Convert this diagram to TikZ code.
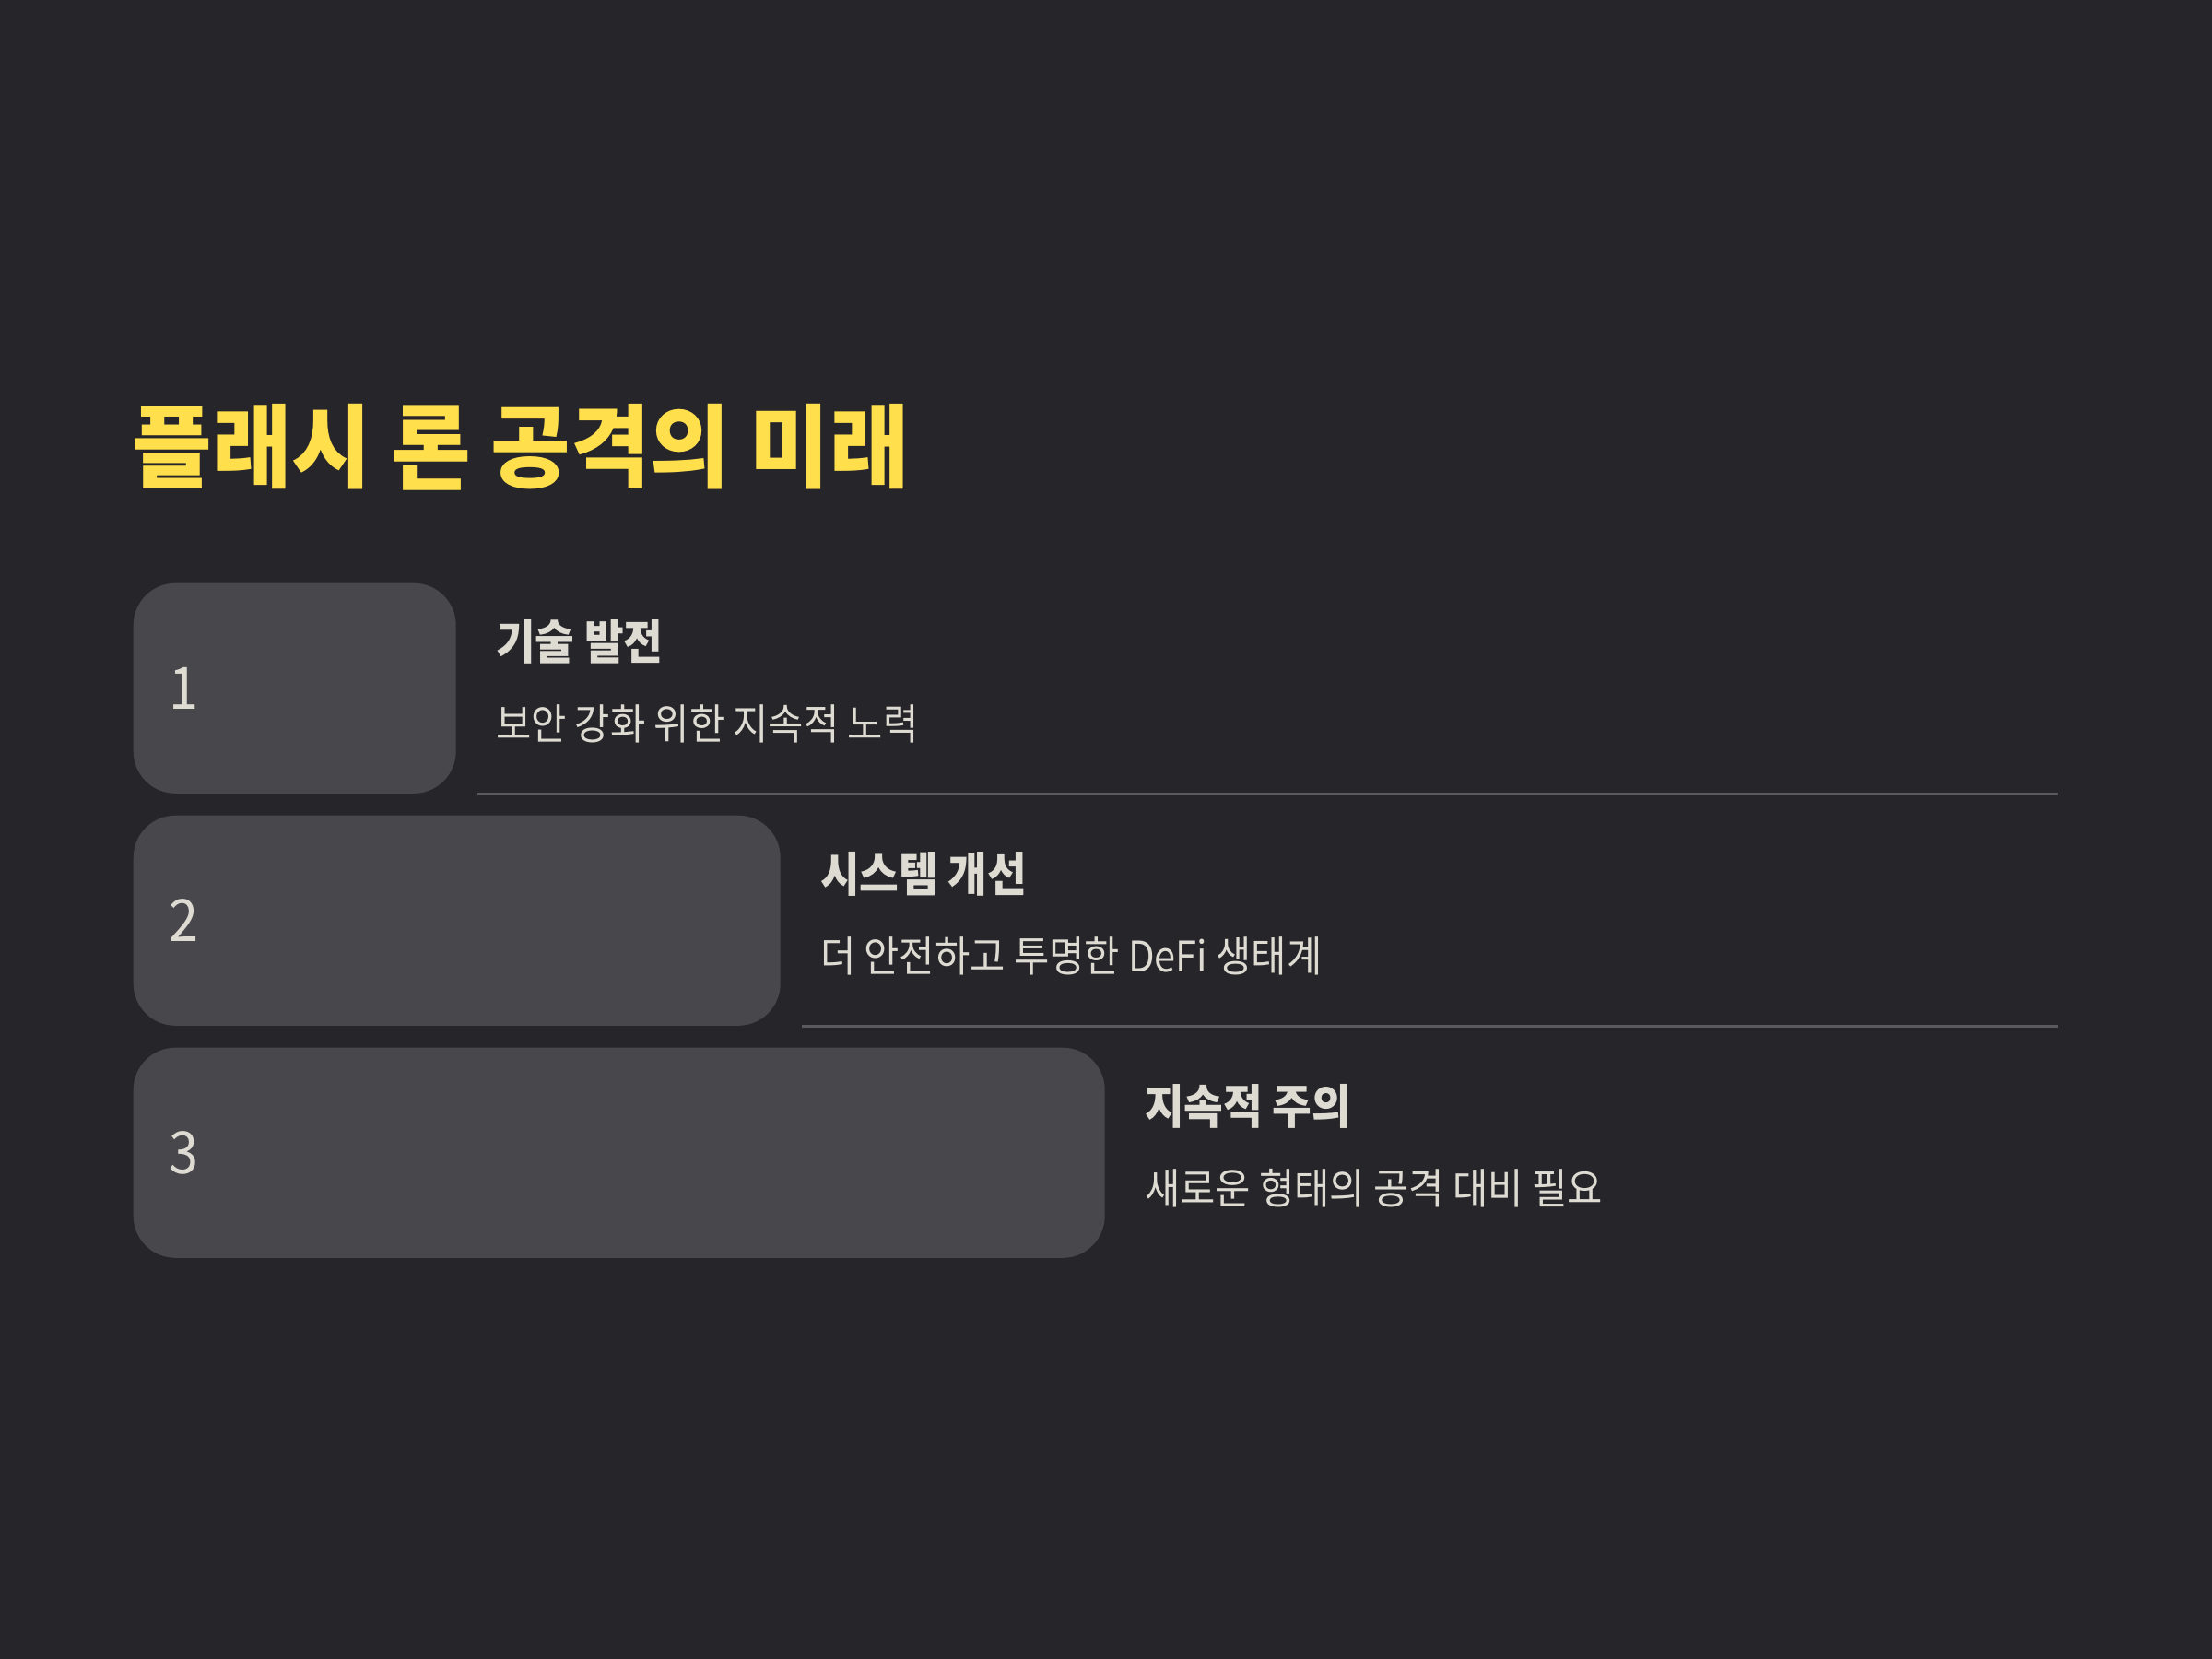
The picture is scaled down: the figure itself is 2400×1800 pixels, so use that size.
\documentclass[tikz,border=0pt]{standalone}
\usepackage{fontspec}
\setmainfont{Noto Sans CJK KR}[FakeStretch=0.91]
\newfontfamily\titlefont{Noto Sans CJK KR}[FakeStretch=0.955]
\usetikzlibrary{calc,positioning}

\definecolor{bgcol}{HTML}{26252A}
\definecolor{boxcol}{HTML}{48474C}
\definecolor{titlecol}{HTML}{FFE04C}
\definecolor{textcol}{HTML}{DEDBD2}
\definecolor{rulecol}{HTML}{5A595E}

\begin{document}
\begin{tikzpicture}[x=0.01cm,y=-0.01cm]

	\tikzset{
		stagebox/.style={fill=boxcol,rounded corners=13pt,anchor=north west,
				minimum height=2.28cm,inner sep=0pt},
		numtext/.style={text=textcol,font=\fontsize{18}{20}\selectfont,anchor=west,inner sep=0pt},
		headtext/.style={text=textcol,font=\fontsize{14.5}{17}\selectfont\bfseries,anchor=west,inner sep=0pt},
		desctext/.style={text=textcol,font=\fontsize{13}{15}\selectfont,anchor=west,inner sep=0pt},
		sepline/.style={draw=rulecol,line width=0.9pt}
	}

	\fill[bgcol] (0,0) rectangle (2400,1800);
	\useasboundingbox (0,0) rectangle (2400,1800);

	\node[text=titlecol,font=\titlefont\fontsize{28}{32}\selectfont\bfseries,anchor=west,inner sep=0pt]
		(title) at (143,485) {플래시 론 공격의 미래};

	\coordinate (rim) at (2233,0);

	\foreach \n/\w/\ytop/\head/\desc in {
			1/350/632/기술 발전/보안 강화 위한 지속적 노력,
			2/702/884/시스템 개선/더 안전하고 투명한 DeFi 생태계,
			3/1054/1136/지속적 주의/새로운 형태의 공격 대비 필요} {
			\node[stagebox,minimum width=\w*0.01cm] (box\n) at (144,\ytop) {};
			\node[numtext] (num\n) at ($(box\n.west)+(39,0)$) {\n};
			\node[headtext] (head\n) at ($(box\n.north east)+(42,64)$) {\head};
			\node[desctext] (desc\n) at ($(box\n.north east)+(42,153)$) {\desc};
		}

	\foreach \n in {1,2} {
			\draw[sepline] ($(box\n.south east)+(23,0)$) -- (box\n.south east -| rim);
		}
\end{tikzpicture}
\end{document}
